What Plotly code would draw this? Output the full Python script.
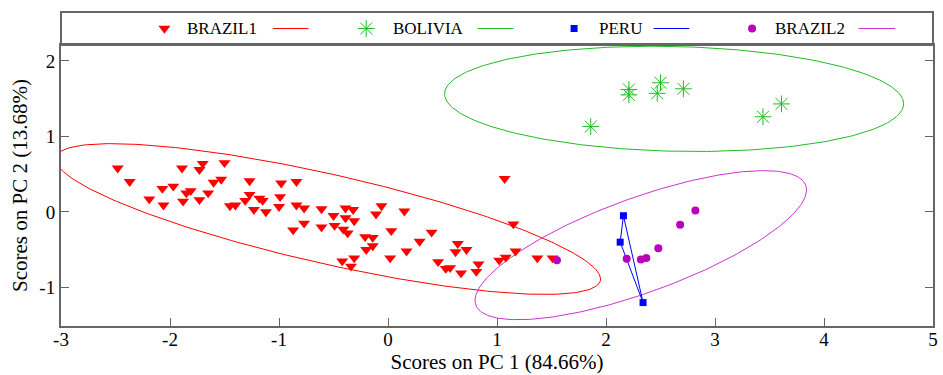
import numpy as np
import plotly.graph_objects as go

# ---------------- data (PCA scores) ----------------
brazil1_x = [-2.48, -2.37, -1.89, -1.73, -1.70, -1.50, -1.53, -1.60, -1.97, -2.07,
             -1.81, -1.85, -1.65, -2.19, -2.06, -1.88, -1.73, -1.27, -0.98, -0.84,
             -1.45, -1.40, -1.27, -1.31, -1.18, -1.15, -1.23, -1.12, -0.99, -1.00,
             -0.84, -0.77, -0.61, -0.39, -0.32, -0.50, -0.39, -0.31, -0.49, -0.41,
             -0.37, -0.77, -0.87, -0.61, -0.42, -0.31, -0.34, -0.06, -0.11, 0.15,
             -0.21, -0.14, 0.03, -0.14, -0.20, 0.29, 0.40, 0.17, 0.02, 0.64,
             0.62, 0.72, 0.46, 0.53, 0.57, 0.67, 0.81, 0.83, 1.07, 1.15,
             1.17, 1.08, 1.02, 1.37, 1.51]
brazil1_y = [0.58, 0.40, 0.58, 0.56, 0.64, 0.65, 0.43, 0.39, 0.34, 0.31,
             0.28, 0.25, 0.25, 0.17, 0.09, 0.14, 0.16, 0.41, 0.38, 0.40,
             0.08, 0.09, 0.23, 0.15, 0.18, 0.15, 0.03, 0.00, 0.20, 0.07,
             0.09, 0.05, 0.04, 0.05, 0.03, -0.05, -0.08, -0.12, -0.18, -0.23,
             -0.28, -0.15, -0.24, -0.20, -0.65, -0.61, -0.72, 0.08, -0.03, 0.01,
             -0.33, -0.34, -0.25, -0.45, -0.50, -0.39, -0.27, -0.52, -0.61, -0.42,
             -0.53, -0.50, -0.66, -0.75, -0.74, -0.81, -0.79, -0.69, 0.44, -0.16,
             -0.52, -0.60, -0.64, -0.61, -0.61]

bolivia_x = [1.86, 2.21, 2.21, 2.47, 2.50, 2.71, 3.44, 3.61]
bolivia_y = [1.13, 1.62, 1.55, 1.57, 1.71, 1.63, 1.26, 1.43]

peru_x = [2.16, 2.13, 2.34]
peru_y = [-0.05, -0.40, -1.20]

brazil2_x = [1.55, 2.19, 2.32, 2.37, 2.48, 2.68, 2.82]
brazil2_y = [-0.64, -0.62, -0.63, -0.61, -0.48, -0.17, 0.02]

# confidence ellipses: centre and shape (covariance-like) matrix
brazil1_ell_center = [-0.550, -0.094]
brazil1_ell_shape = [[6.250, -1.983], [-1.983, 0.996]]
bolivia_ell_center = [2.625, 1.497]
bolivia_ell_shape = [[4.435, -0.1395], [-0.1395, 0.4854]]
brazil2_ell_center = [2.319, -0.440]
brazil2_ell_shape = [[2.313, 1.112], [1.112, 0.974]]

x_ticks = [-3, -2, -1, 0, 1, 2, 3, 4, 5]
y_ticks = [-1, 0, 1, 2]
x_title = "Scores on PC 1 (84.66%)"
y_title = "Scores on PC 2 (13.68%)"
groups = ["BRAZIL1", "BOLIVIA", "PERU", "BRAZIL2"]

# ---------------- styles ----------------
RED = "#ff0000"
GREEN = "#22bb22"
BLUE = "#0000ff"
PURPLE = "#bb00bb"
PURPLE_LINE = "#cc33cc"
AXIS = "#666666"
FONT = "Liberation Serif"


def ellipse(center, shape, n=300):
    L = np.linalg.cholesky(np.array(shape, dtype=float))
    t = np.linspace(0, 2 * np.pi, n)
    pts = L @ np.vstack([np.cos(t), np.sin(t)])
    return center[0] + pts[0], center[1] + pts[1]


fig = go.Figure()

for c, s, col in [(brazil1_ell_center, brazil1_ell_shape, RED),
                  (bolivia_ell_center, bolivia_ell_shape, GREEN),
                  (brazil2_ell_center, brazil2_ell_shape, PURPLE_LINE)]:
    ex, ey = ellipse(c, s)
    fig.add_trace(go.Scatter(x=ex, y=ey, mode="lines", line=dict(color=col, width=1),
                             showlegend=False, hoverinfo="skip"))

# PERU: closed polygon
fig.add_trace(go.Scatter(x=peru_x + [peru_x[0]], y=peru_y + [peru_y[0]], mode="lines",
                         line=dict(color=BLUE, width=1), showlegend=False, hoverinfo="skip"))

fig.add_trace(go.Scatter(x=brazil1_x, y=brazil1_y, mode="markers", name=groups[0],
                         marker=dict(symbol="triangle-down", size=10.5, color=RED, line=dict(width=0)),
                         showlegend=False))
fig.add_trace(go.Scatter(x=bolivia_x, y=bolivia_y, mode="markers", name=groups[1],
                         marker=dict(symbol="asterisk-open", size=14, color=GREEN,
                                     line=dict(color=GREEN, width=1)),
                         showlegend=False))
fig.add_trace(go.Scatter(x=peru_x, y=peru_y, mode="markers", name=groups[2],
                         marker=dict(symbol="square", size=7, color=BLUE, line=dict(width=0)),
                         showlegend=False))
fig.add_trace(go.Scatter(x=brazil2_x, y=brazil2_y, mode="markers", name=groups[3],
                         marker=dict(symbol="circle", size=8, color=PURPLE, line=dict(width=0)),
                         showlegend=False))

# ---------------- custom legend box (marker, label, line) ----------------
leg_marker_x = [0.1186, 0.350, 0.5884, 0.7925]
leg_text_x = [0.1425, 0.3786, 0.6146, 0.8164]
leg_line_x = [(0.2429, 0.2839), (0.4778, 0.5188), (0.6796, 0.7206), (0.9145, 0.9567)]
leg_symbols = [("triangle-down", 10.5, RED, 0), ("asterisk-open", 14, GREEN, 1),
               ("square", 7, BLUE, 0), ("circle", 8, PURPLE, 0)]
leg_line_cols = [RED, GREEN, BLUE, PURPLE_LINE]

for i in range(4):
    sym, sz, col, lw = leg_symbols[i]
    fig.add_trace(go.Scatter(x=[leg_marker_x[i]], y=[0.5], xaxis="x2", yaxis="y2",
                             mode="markers", showlegend=False, hoverinfo="skip",
                             marker=dict(symbol=sym, size=sz, color=col,
                                         line=dict(color=col, width=lw))))
    fig.add_annotation(x=leg_text_x[i], y=0.5, xref="x2", yref="y2", text=groups[i],
                       showarrow=False, xanchor="left", yanchor="middle",
                       font=dict(family=FONT, size=17, color="black"))
    fig.add_shape(type="line", x0=leg_line_x[i][0], x1=leg_line_x[i][1], y0=0.5, y1=0.5,
                  xref="x2", yref="y2", line=dict(color=leg_line_cols[i], width=1))

MAIN_TOP = 281 / 314
fig.add_shape(type="rect", xref="paper", yref="paper", x0=0, x1=1, y0=MAIN_TOP, y1=1,
              line=dict(color=AXIS, width=2), fillcolor="rgba(0,0,0,0)")

fig.update_layout(
    width=943, height=375,
    margin=dict(l=61, r=5, t=12, b=49),
    paper_bgcolor="white", plot_bgcolor="white",
    font=dict(family=FONT, size=20, color="black"),
    xaxis=dict(range=[-3, 5], tickvals=x_ticks, ticktext=[str(v) for v in x_ticks],
               ticks="inside", ticklen=8, tickcolor=AXIS, tickwidth=1,
               showline=True, linecolor=AXIS, linewidth=2, mirror=True,
               showgrid=False, zeroline=False, ticklabelstandoff=-5,
               tickfont=dict(family=FONT, size=19),
               title=dict(text=x_title, font=dict(family=FONT, size=21), standoff=0),
               domain=[0, 1]),
    yaxis=dict(range=[-1.51, 2.21], tickvals=y_ticks, ticktext=[str(v) for v in y_ticks],
               ticks="inside", ticklen=8, tickcolor=AXIS, tickwidth=1,
               showline=True, linecolor=AXIS, linewidth=2, mirror="ticks",
               showgrid=False, zeroline=False,
               tickfont=dict(family=FONT, size=19),
               title=dict(text=y_title, font=dict(family=FONT, size=21), standoff=6),
               domain=[0, MAIN_TOP]),
    xaxis2=dict(range=[0, 1], domain=[0, 1], visible=False, anchor="y2"),
    yaxis2=dict(range=[0, 1], domain=[MAIN_TOP, 1], visible=False, anchor="x2"),
)

fig.write_html("out.html")
